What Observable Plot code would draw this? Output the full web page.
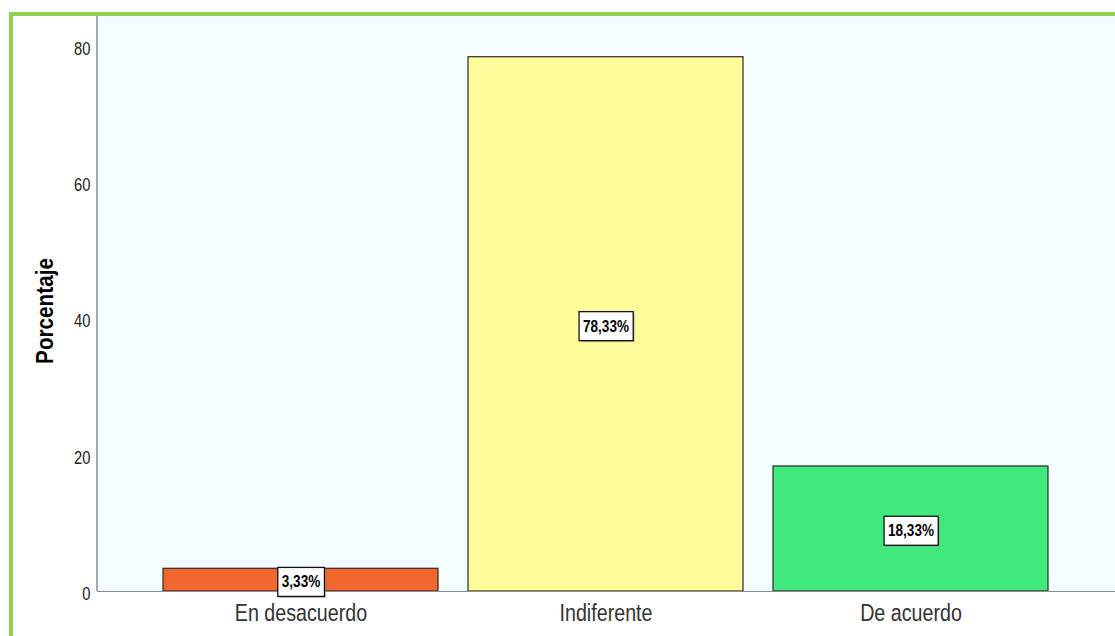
<!DOCTYPE html>
<html>
<head>
<meta charset="utf-8">
<script src="https://cdn.jsdelivr.net/npm/d3@7"></script>
<script src="https://cdn.jsdelivr.net/npm/@observablehq/plot@0.6"></script>
<style>
  html, body { margin: 0; padding: 0; background: #ffffff; }
  #outer { width: 1115px; height: 636px; padding-left: 9px; padding-top: 12px; box-sizing: border-box; overflow: hidden; }
  #frame { border-top: 4px solid #92D050; border-left: 4px solid #92D050; width: 1106px; height: 624px; box-sizing: border-box; }
</style>
</head>
<body>
<div id="outer"><div id="frame"></div></div>
<script>
const categories = ["En desacuerdo", "Indiferente", "De acuerdo"];
const values = [3.33, 78.33, 18.33];
const valueLabels = ["3,33%", "78,33%", "18,33%"];
const barColors = ["#F2672E", "#FFFD99", "#41E87E"];
const yTicks = [0, 20, 40, 60, 80];
const yTitle = "Porcentaje";

const data = categories.map((c, i) => ({cat: c, value: values[i], label: valueLabels[i], color: barColors[i]}));

const W = 1102, H = 620;
const chart = Plot.plot({
  width: W,
  height: H,
  marginLeft: 84,
  marginRight: 0,
  marginTop: 0,
  marginBottom: 45,
  style: {background: "transparent", fontFamily: "'Liberation Sans', Arial, sans-serif", color: "#222"},
  x: {domain: categories, paddingInner: 0.098, paddingOuter: 0.216, label: null},
  y: {domain: [0, 84.3], label: null},
  color: {type: "identity"},
  marks: [
    Plot.frame({fill: "#F2FCFF", stroke: null}),
    Plot.barY(data, {x: "cat", y: "value", fill: "color", stroke: "#2a2a2a", strokeWidth: 1.2}),
    Plot.ruleY([0], {stroke: "#8c8c8c", strokeWidth: 1.2}),
    Plot.axisY({ticks: yTicks, tickSize: 0, tickPadding: 7, fontSize: 18, label: null, dy: 3, fill: "#222"}),
    Plot.axisX({tickSize: 0, tickPadding: 12, fontSize: 24, label: null, fill: "#333"}),
    Plot.text(data, {x: "cat", y: d => d.value / 2, text: "label", dy: 2, fontSize: 16.5, fontWeight: "bold", fill: "#000"}),
    Plot.text([yTitle], {frameAnchor: "left", textAnchor: "middle", dx: -52, dy: 7, rotate: -90, fontSize: 23, fontWeight: "bold", fill: "#000"})
  ]
});
document.getElementById("frame").appendChild(chart);

const ns = "http://www.w3.org/2000/svg";

// Narrow the lettering horizontally (the reference uses a condensed face)
function squeeze(t, s) {
  let x = parseFloat(t.getAttribute("x"));
  const xa = t.getAttribute("x") || "";
  if (!isFinite(x) || /em|%/.test(xa)) x = 0;
  const tr = t.getAttribute("transform") || "";
  t.setAttribute("transform", (tr + ` translate(${x},0) scale(${s},1) translate(${-x},0)`).trim());
}

// White boxes (with slight shadow) behind value labels, measured before squeezing
chart.querySelectorAll("text").forEach(t => {
  if (!valueLabels.includes(t.textContent)) return;
  const b = t.getBBox();
  const s = 0.82;
  const w = b.width * s;
  let x = parseFloat(t.getAttribute("x"));
  if (!isFinite(x)) x = 0;
  const cx = x + (b.x + b.width / 2 - x) * s;
  const padX = 4, padY = 5.5;
  const x0 = cx - w / 2 - padX, y0 = b.y - padY + 0.5, ww = w + 2 * padX, hh = b.height + 2 * padY;
  const tr = t.getAttribute("transform");
  const shadow = document.createElementNS(ns, "rect");
  shadow.setAttribute("x", x0 + 1.5); shadow.setAttribute("y", y0 + 1.5);
  shadow.setAttribute("width", ww); shadow.setAttribute("height", hh);
  shadow.setAttribute("fill", "#8a8a8a"); shadow.setAttribute("opacity", "0.55");
  const r = document.createElementNS(ns, "rect");
  r.setAttribute("x", x0); r.setAttribute("y", y0);
  r.setAttribute("width", ww); r.setAttribute("height", hh);
  r.setAttribute("fill", "#ffffff"); r.setAttribute("stroke", "#111"); r.setAttribute("stroke-width", "1.3");
  if (tr) { shadow.setAttribute("transform", tr); r.setAttribute("transform", tr); }
  t.parentNode.insertBefore(shadow, t);
  t.parentNode.insertBefore(r, t);
});

chart.querySelectorAll("text").forEach(t => {
  squeeze(t, t.textContent === yTitle ? 0.9 : 0.82);
});

// Left axis line along the frame edge
const fr = chart.querySelector('g[aria-label="frame"] rect') || chart.querySelector('rect');
if (fr) {
  const fx = +fr.getAttribute("x"), fy = +fr.getAttribute("y"), fh = +fr.getAttribute("height");
  const line = document.createElementNS(ns, "line");
  line.setAttribute("x1", fx); line.setAttribute("x2", fx);
  line.setAttribute("y1", fy); line.setAttribute("y2", fy + fh);
  line.setAttribute("stroke", "#8c8c8c");
  line.setAttribute("stroke-width", "1.5");
  chart.appendChild(line);
}
</script>
</body>
</html>
